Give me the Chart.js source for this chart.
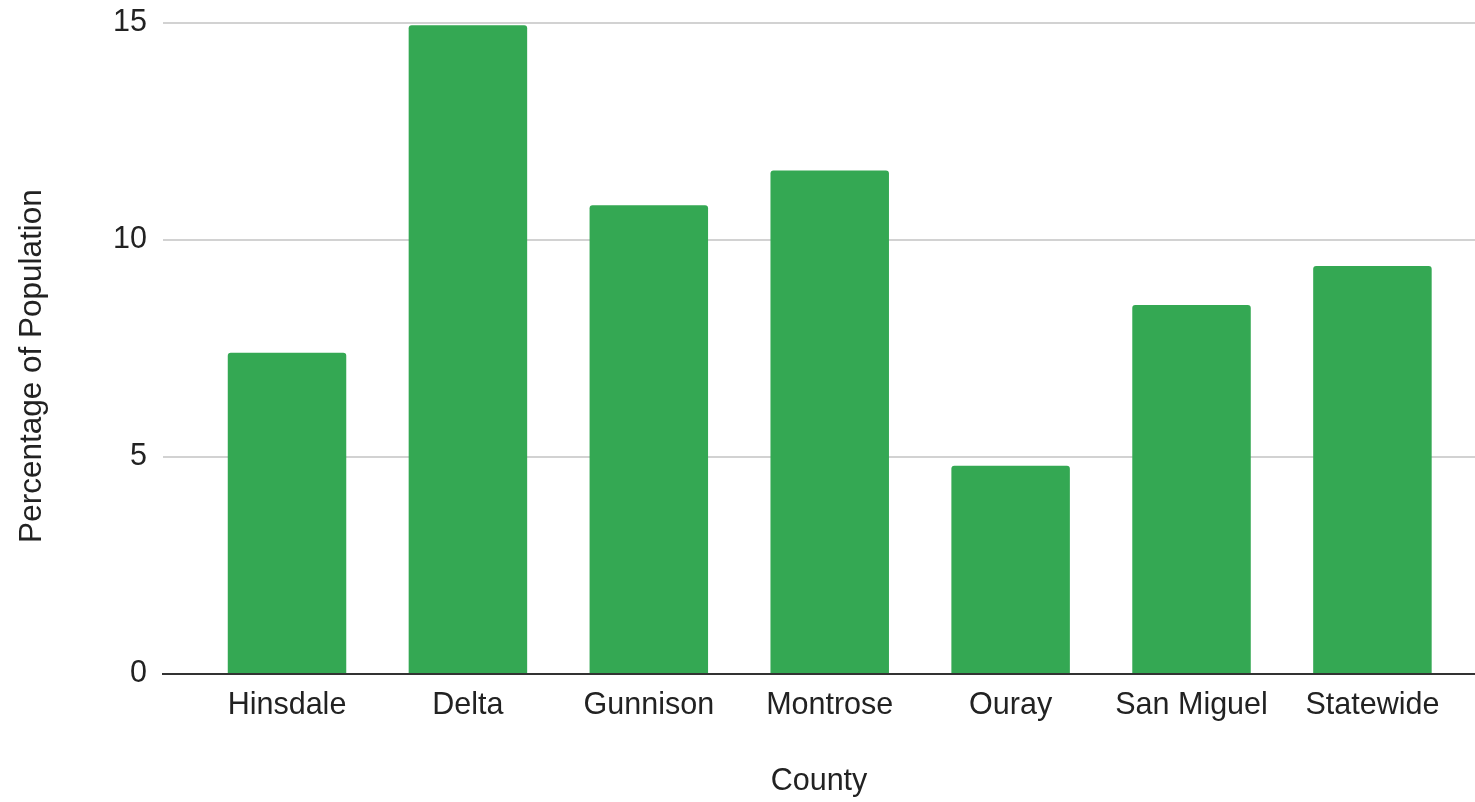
<!DOCTYPE html>
<html>
<head>
<meta charset="utf-8">
<script src="https://cdn.jsdelivr.net/npm/chart.js@4/dist/chart.umd.min.js"></script>
<style>
  html, body { margin: 0; padding: 0; background: #fff; }
  #wrap { width: 1475px; height: 802px; position: relative; }
</style>
</head>
<body>
<div id="wrap"><canvas id="chart"></canvas></div>
<script>
// Chart data
const counties = ["Hinsdale", "Delta", "Gunnison", "Montrose", "Ouray", "San Miguel", "Statewide"];
const percentages = [7.4, 14.95, 10.8, 11.6, 4.8, 8.5, 9.4];
const yTicks = [0, 5, 10, 15];

const textColor = "#222";
const fontFamily = "Arial, 'Liberation Sans', sans-serif";

// Linear x scale so the plot area can run past the last category, like the original
const points = percentages.map((v, i) => ({ x: i, y: v }));

new Chart(document.getElementById("chart"), {
  type: "bar",
  data: {
    datasets: [
      {
        label: "Percentage of Population",
        data: points,
        backgroundColor: "#34a853",
        borderRadius: 3,
        borderSkipped: "start",
        categoryPercentage: 1,
        barPercentage: 0.655,
      },
    ],
  },
  options: {
    responsive: true,
    maintainAspectRatio: false,
    animation: false,
    layout: { padding: { top: 23, right: 0, bottom: 0, left: 0 } },
    plugins: {
      legend: { display: false },
      tooltip: { enabled: false },
    },
    scales: {
      x: {
        type: "linear",
        offset: false,
        min: -0.6855,
        max: 6.567,
        afterBuildTicks: (axis) => {
          axis.ticks = counties.map((_, i) => ({ value: i }));
        },
        afterFit: (scale) => {
          scale.height = 128;
        },
        grid: { display: false, drawTicks: false },
        border: { display: true, color: "#333", width: 2, z: 1 },
        ticks: {
          autoSkip: false,
          maxRotation: 0,
          padding: 13,
          color: textColor,
          font: { family: fontFamily, size: 30.5 },
          callback: (value) => counties[value] ?? "",
        },
        title: {
          display: true,
          text: "County",
          color: textColor,
          font: { family: fontFamily, size: 30.5 },
          padding: { top: 0, bottom: 2 },
        },
      },
      y: {
        min: 0,
        max: 15,
        afterBuildTicks: (axis) => {
          axis.ticks = yTicks.map((v) => ({ value: v }));
        },
        afterFit: (scale) => {
          scale.width = 163;
          // let the layout padding alone decide where the plot starts
          scale.paddingTop = 0;
          scale.paddingBottom = 0;
        },
        grid: { color: "#d2d2d2", lineWidth: 2, drawTicks: false },
        border: { display: false },
        ticks: {
          padding: 16,
          color: textColor,
          font: { family: fontFamily, size: 30.5 },
        },
        title: {
          display: true,
          // trailing spaces nudge the rotated title down, as in the original
          text: "Percentage of Population    ",
          color: textColor,
          font: { family: fontFamily, size: 31.5 },
          padding: { top: 13, bottom: 0 },
        },
      },
    },
  },
});
</script>
</body>
</html>
